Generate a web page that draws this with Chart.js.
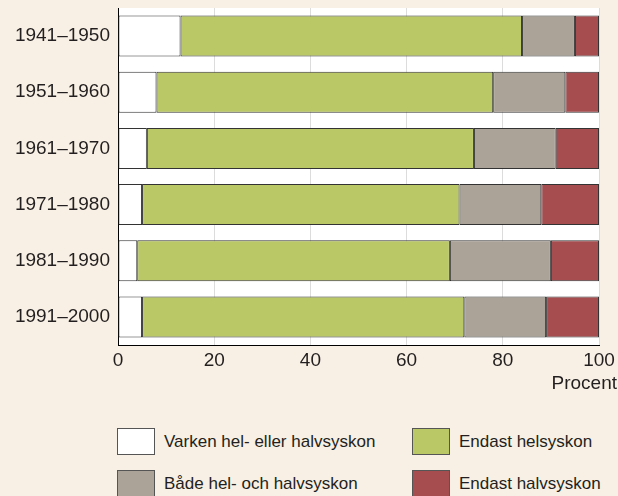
<!DOCTYPE html>
<html>
<head>
<meta charset="utf-8">
<script src="https://cdn.jsdelivr.net/npm/chart.js@4"></script>
<style>
    body { margin: 0; background: #f8f0e4; }
    #wrap { position: relative; width: 618px; height: 496px; overflow: hidden; background: #f8f0e4; }
    #chartBox { position: absolute; left: 0; top: 0; width: 618px; height: 400px; }
    #legend {
        position: absolute; left: 117px; top: 428px;
        display: grid; grid-template-columns: 295px 200px; row-gap: 15px;
        font-family: "Liberation Sans", sans-serif; font-size: 17px; color: #231f20;
    }
    .item { display: flex; align-items: center; height: 27px; }
    .swatch { width: 36px; height: 25px; border: 1px solid #555; margin-right: 9px; }
</style>
</head>
<body>
<div id="wrap">
    <div id="chartBox"><canvas id="chart"></canvas></div>
    <div id="legend"></div>
</div>
<script>
const decades = ['1941–1950', '1951–1960', '1961–1970', '1971–1980', '1981–1990', '1991–2000'];
const seriesNames = ['Varken hel- eller halvsyskon', 'Endast helsyskon', 'Både hel- och halvsyskon', 'Endast halvsyskon'];
const neither = [13, 8, 6, 5, 4, 5];
const onlyFull = [71, 70, 68, 66, 65, 67];
const both = [11, 15, 17, 17, 21, 17];
const onlyHalf = [5, 7, 9, 12, 10, 11];
const xTicks = [0, 20, 40, 60, 80, 100];
const colors = ['#ffffff', '#bac866', '#aba398', '#a54d4f'];

const font = { family: '"Liberation Sans", sans-serif', size: 19 };
const textColor = '#231f20';

// white plot background + "Procent" under the axis
const plotBg = {
    id: 'plotBg',
    beforeDraw(chart) {
        const { ctx, chartArea: a } = chart;
        ctx.save();
        ctx.fillStyle = '#ffffff';
        ctx.fillRect(a.left, a.top, a.right - a.left, a.bottom - a.top);
        ctx.restore();
    },
    afterDraw(chart) {
        const { ctx } = chart;
        ctx.save();
        ctx.font = font.size + 'px ' + font.family;
        ctx.fillStyle = textColor;
        ctx.textAlign = 'right';
        ctx.textBaseline = 'middle';
        ctx.fillText('Procent', 617, 384);
        ctx.restore();
    }
};

const data = [neither, onlyFull, both, onlyHalf];

const chart = new Chart(document.getElementById('chart'), {
    type: 'bar',
    data: {
        labels: decades,
        datasets: data.map((d, i) => ({
            label: seriesNames[i],
            data: d,
            backgroundColor: colors[i],
            borderColor: '#333333',
            borderWidth: 1,
            borderSkipped: false,
            categoryPercentage: 1,
            barPercentage: 0.73
        }))
    },
    options: {
        indexAxis: 'y',
        responsive: true,
        maintainAspectRatio: false,
        animation: false,
        layout: { padding: { top: 8, right: 19, bottom: 0, left: 0 } },
        plugins: { legend: { display: false }, tooltip: { enabled: false } },
        scales: {
            x: {
                stacked: true,
                min: 0, max: 100,
                afterBuildTicks: scale => { scale.ticks = xTicks.map(v => ({ value: v })); },
                afterFit: scale => {
                    scale.height = 55;
                    scale.paddingLeft = 0;
                    scale.paddingRight = 0;
                },
                grid: {
                    drawTicks: false,
                    color: c => (c.tick && c.tick.value === 0) ? 'rgba(0,0,0,0)' : '#dcdcdc'
                },
                border: { display: true, color: '#000000', width: 1 },
                ticks: { font: font, color: textColor, padding: 4 }
            },
            y: {
                stacked: true,
                afterFit: scale => {
                    scale.width = 118;
                    scale.paddingTop = 0;
                    scale.paddingBottom = 0;
                },
                grid: { display: false, drawTicks: false },
                border: { display: true, color: '#000000', width: 1 },
                ticks: { font: font, color: textColor, padding: 8 }
            }
        }
    },
    plugins: [plotBg]
});

// legend in two columns
const legend = document.getElementById('legend');
chart.data.datasets.forEach(ds => {
    const item = document.createElement('div');
    item.className = 'item';
    item.innerHTML = `<span class="swatch" style="background:${ds.backgroundColor}"></span><span>${ds.label}</span>`;
    legend.appendChild(item);
});
</script>
</body>
</html>
